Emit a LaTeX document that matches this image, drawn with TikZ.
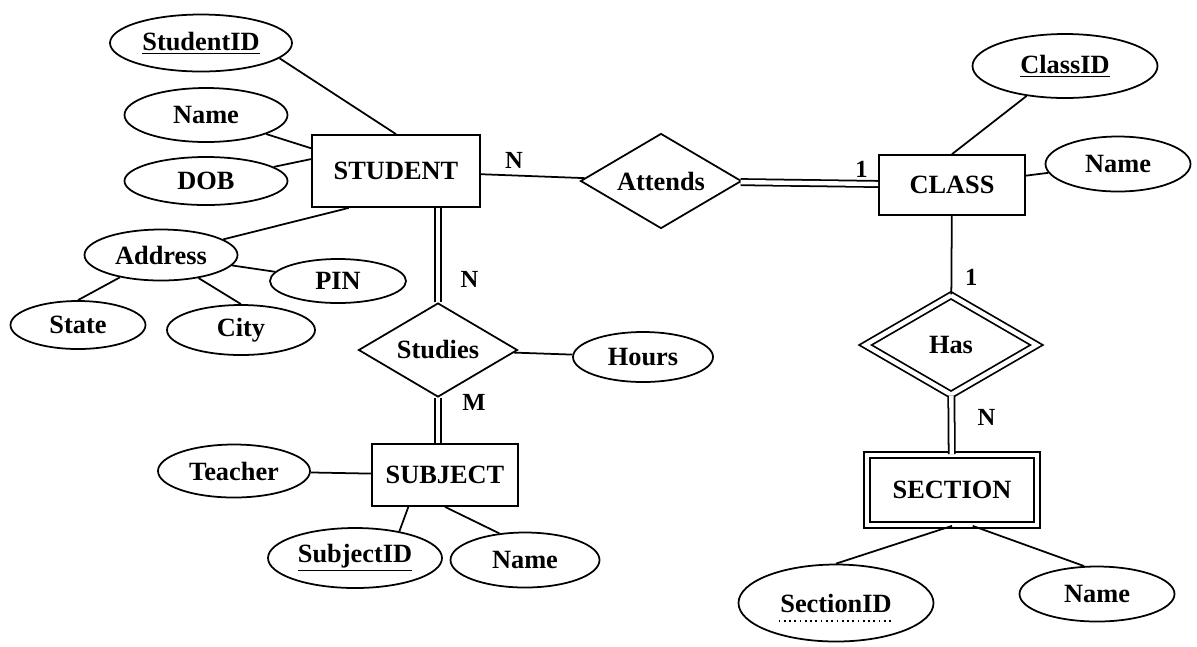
\documentclass[tikz,border=0pt]{standalone}
\usepackage{fontspec}
\setmainfont{Liberation Serif}
\usetikzlibrary{shapes.geometric, calc}

\begin{document}
\begin{tikzpicture}[line width = 1pt,
font = \bfseries\fontsize{15}{18}\selectfont,
entity/.style = { rectangle, draw, inner sep = 0pt, minimum width = 2.92cm, minimum height = 1.24cm},
weak_entity/.style = { entity, double, double distance = 2.5pt },
rel/.style = { diamond, draw, aspect = 1.7, inner sep = 0pt },
weak_rel/.style = { rel, double, double distance = 2.5pt },
attr/.style 2 args = { ellipse, draw, inner sep = 0pt, minimum width = #1, minimum height = #2 },
total/.style = { double, double distance = 2.5pt },
card/.style = { font = \bfseries\fontsize{14}{16}\selectfont }]
\useasboundingbox (0,0) rectangle (23.94,-12.92);
% entities and relationships
\node[entity, minimum width = 3.36cm, minimum height = 1.44cm] (stu) at (7.92,-3.42) {STUDENT};
\node[entity, minimum height = 1.2cm] (cls) at (19.04,-3.7) {CLASS};
\node[entity] (sub) at (8.9,-9.5) {SUBJECT};
\node[weak_entity, minimum width = 3.4cm, minimum height = 1.4cm] (sec) at (19.04,-9.8) {SECTION};
\node[rel, minimum width = 3.22cm, minimum height = 1.9cm] (att) at (13.22,-3.62) {Attends};
\node[rel, minimum width = 3.18cm, minimum height = 1.88cm] (stud) at (8.76,-7.0) {Studies};
\node[weak_rel, minimum width = 3.44cm, minimum height = 2.0cm] (has) at (19.02,-6.9) {Has};
% attributes
\node[attr = {3.64cm}{1.14cm}] (stid) at (4.02,-0.86) {\underline{StudentID}};
\node[attr = {3.26cm}{1.08cm}] (stname) at (4.12,-2.3) {Name};
\node[attr = {3.26cm}{0.96cm}] (dob) at (4.12,-3.62) {DOB};
\node[attr = {3.06cm}{1.02cm}] (addr) at (3.22,-5.1) {Address};
\node[attr = {2.72cm}{0.88cm}] (pin) at (6.76,-5.62) {PIN};
\node[attr = {2.7cm}{0.96cm}] (state) at (1.56,-6.5) {State};
\node[attr = {2.96cm}{1.0cm}] (city) at (4.82,-6.6) {City};
\node[attr = {2.8cm}{1.0cm}] (hrs) at (12.86,-7.14) {Hours};
\node[attr = {3.04cm}{1.06cm}] (teach) at (4.68,-9.42) {Teacher};
\node[attr = {3.48cm}{1.2cm}] (sjid) at (7.1,-11.16) {\underline{SubjectID}};
\node[attr = {2.98cm}{1.1cm}] (sjname) at (10.5,-11.2) {Name};
\node[attr = {3.7cm}{1.28cm}] (clid) at (21.3,-1.32) {\underline{ClassID}};
\node[attr = {2.9cm}{1.1cm}] (clname) at (22.36,-3.28) {Name};
\node[attr = {3.9cm}{1.54cm}] (scid) at (16.72,-12.06) {SectionID};
\node[attr = {3.1cm}{1.1cm}] (scname) at (21.94,-11.88) {Name};
\draw[dotted, line width = 1pt] ($(scid.center)+(-1.15,-0.36)$) -- ($(scid.center)+(1.15,-0.36)$);
% links
\draw (stid.-11) -- (stu.north);
\draw (stname) -- (stu.165);
\draw (dob) -- (stu.172);
\draw (addr) -- (stu.218);
\draw (addr) -- (pin);
\draw (addr) -- (state.north);
\draw (addr) -- (city.north);
\draw (stu) -- node[card, pos = 0.32, above] {N} (att);
\draw[total] (att) -- node[card, pos = 0.88, above] {1} (cls);
\draw (cls.north) -- (clid);
\draw (cls) -- (clname);
\draw (cls) -- node[card, pos = 0.78, right = 4pt] {1} (has);
\draw[total] (has) -- node[card, pos = 0.37, right = 11pt] {N} (sec);
\draw (sec.south) -- (scid.north);
\draw (sec.-60) -- (scname.115);
\draw[total] (stud.north |- stu.south) -- node[card, pos = 0.76, right = 9pt] {N} (stud.north);
\draw[total] (stud.south) -- node[card, pos = 0.1, right = 10pt] {M} (stud.south |- sub.north);
\draw (stud) -- (hrs);
\draw (sub) -- (teach);
\draw (sub.221) -- (sjid.31);
\draw (sub.south) -- (sjname.134);
\end{tikzpicture}
\end{document}
